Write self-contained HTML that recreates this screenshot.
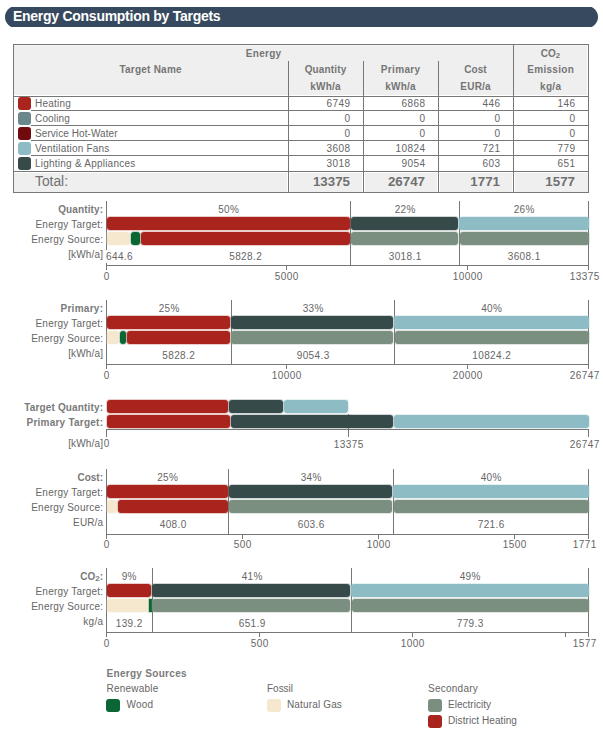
<!DOCTYPE html>
<html><head><meta charset="utf-8"><style>
html,body{margin:0;padding:0;background:#fff;}
body{width:603px;height:740px;position:relative;overflow:hidden;font-family:"Liberation Sans",sans-serif;}
body>div{position:absolute;}
</style></head><body>
<div style="left:4.5px;top:7px;width:593.5px;height:20px;overflow:hidden;"><div style="position:absolute;left:0;top:-1px;width:593.5px;height:22px;background:#36495e;border-radius:11px;"></div></div>
<div style="left:13px;top:9px;font-size:14px;line-height:14px;font-weight:bold;color:#fff;white-space:nowrap;letter-spacing:-0.27px;">Energy Consumption by Targets</div>
<div style="left:13px;top:44px;width:574px;height:147px;border:1px solid #777;"></div>
<div style="left:14px;top:46px;width:573px;height:49px;background:#efefef;"></div>
<div style="left:14px;top:45px;width:573px;height:1px;background:#f7f7f7;"></div>
<div style="left:14px;top:173px;width:574px;height:19px;background:#efefef;"></div>
<div style="left:288px;top:61px;width:1px;height:35px;background:#777;"></div>
<div style="left:363px;top:61px;width:1px;height:35px;background:#777;"></div>
<div style="left:438px;top:61px;width:1px;height:35px;background:#777;"></div>
<div style="left:513px;top:45px;width:1px;height:51px;background:#777;"></div>
<div style="left:14px;top:96px;width:574px;height:1px;background:#777;"></div>
<div style="left:31px;top:110px;width:557px;height:1px;background:#777;"></div>
<div style="left:31px;top:125px;width:557px;height:1px;background:#777;"></div>
<div style="left:31px;top:140px;width:557px;height:1px;background:#777;"></div>
<div style="left:31px;top:155px;width:557px;height:1px;background:#777;"></div>
<div style="left:14px;top:171px;width:574px;height:1px;background:#777;"></div>
<div style="left:287px;top:172px;width:3px;height:20px;background:#fff;"></div>
<div style="left:362px;top:172px;width:3px;height:20px;background:#fff;"></div>
<div style="left:437px;top:172px;width:3px;height:20px;background:#fff;"></div>
<div style="left:512px;top:172px;width:3px;height:20px;background:#fff;"></div>
<div style="left:14px;top:172px;width:574px;height:1px;background:#fff;"></div>
<div style="left:288px;top:97px;width:1px;height:95px;background:#777;"></div>
<div style="left:363px;top:97px;width:1px;height:95px;background:#777;"></div>
<div style="left:438px;top:97px;width:1px;height:95px;background:#777;"></div>
<div style="left:513px;top:97px;width:1px;height:95px;background:#777;"></div>
<div style="left:63.64155273437501px;width:400px;text-align:center;top:49px;font-size:10px;line-height:10px;font-weight:bold;color:#757575;white-space:nowrap;letter-spacing:0.283px;">Energy</div>
<div style="left:-49.38528053977274px;width:400px;text-align:center;top:65px;font-size:10px;line-height:10px;font-weight:bold;color:#757575;white-space:nowrap;letter-spacing:0.229px;">Target Name</div>
<div style="left:125.57770996093751px;width:400px;text-align:center;top:65px;font-size:10px;line-height:10px;font-weight:bold;color:#757575;white-space:nowrap;letter-spacing:0.155px;">Quantity</div>
<div style="left:125.60517578125001px;width:400px;text-align:center;top:82px;font-size:10px;line-height:10px;font-weight:bold;color:#757575;white-space:nowrap;letter-spacing:0.210px;">kWh/a</div>
<div style="left:200.67527901785712px;width:400px;text-align:center;top:65px;font-size:10px;line-height:10px;font-weight:bold;color:#757575;white-space:nowrap;letter-spacing:0.351px;">Primary</div>
<div style="left:200.60517578125px;width:400px;text-align:center;top:82px;font-size:10px;line-height:10px;font-weight:bold;color:#757575;white-space:nowrap;letter-spacing:0.210px;">kWh/a</div>
<div style="left:275.5222900390625px;width:400px;text-align:center;top:65px;font-size:10px;line-height:10px;font-weight:bold;color:#757575;white-space:nowrap;letter-spacing:0.045px;">Cost</div>
<div style="left:275.6046875px;width:400px;text-align:center;top:82px;font-size:10px;line-height:10px;font-weight:bold;color:#757575;white-space:nowrap;letter-spacing:0.209px;">EUR/a</div>
<div style="left:350.5px;width:400px;text-align:center;top:49px;font-size:10px;line-height:10px;font-weight:bold;color:#757575;white-space:nowrap;">CO<sub style="font-size:8px;vertical-align:-1px;line-height:0">2</sub></div>
<div style="left:350.6463745117187px;width:400px;text-align:center;top:65px;font-size:10px;line-height:10px;font-weight:bold;color:#757575;white-space:nowrap;letter-spacing:0.293px;">Emission</div>
<div style="left:350.67377929687495px;width:400px;text-align:center;top:82px;font-size:10px;line-height:10px;font-weight:bold;color:#757575;white-space:nowrap;letter-spacing:0.348px;">kg/a</div>
<div style="left:17.8px;top:96.5px;width:13.6px;height:13.4px;background:#a8241c;border-radius:3px;"></div>
<div style="left:35px;top:99px;font-size:10px;line-height:10px;color:#666;white-space:nowrap;letter-spacing:0.219px;">Heating</div>
<div style="left:-49.5615234375px;width:400px;text-align:right;top:99px;font-size:10px;line-height:10px;color:#666;white-space:nowrap;letter-spacing:0.438px;">6749</div>
<div style="left:25.4384765625px;width:400px;text-align:right;top:99px;font-size:10px;line-height:10px;color:#666;white-space:nowrap;letter-spacing:0.438px;">6868</div>
<div style="left:100.4384765625px;width:400px;text-align:right;top:99px;font-size:10px;line-height:10px;color:#666;white-space:nowrap;letter-spacing:0.438px;">446</div>
<div style="left:175.4384765625px;width:400px;text-align:right;top:99px;font-size:10px;line-height:10px;color:#666;white-space:nowrap;letter-spacing:0.438px;">146</div>
<div style="left:17.8px;top:111.5px;width:13.6px;height:13.4px;background:#6a878b;border-radius:3px;"></div>
<div style="left:35px;top:114px;font-size:10px;line-height:10px;color:#666;white-space:nowrap;letter-spacing:0.156px;">Cooling</div>
<div style="left:-49.5615234375px;width:400px;text-align:right;top:114px;font-size:10px;line-height:10px;color:#666;white-space:nowrap;letter-spacing:0.438px;">0</div>
<div style="left:25.4384765625px;width:400px;text-align:right;top:114px;font-size:10px;line-height:10px;color:#666;white-space:nowrap;letter-spacing:0.438px;">0</div>
<div style="left:100.4384765625px;width:400px;text-align:right;top:114px;font-size:10px;line-height:10px;color:#666;white-space:nowrap;letter-spacing:0.438px;">0</div>
<div style="left:175.4384765625px;width:400px;text-align:right;top:114px;font-size:10px;line-height:10px;color:#666;white-space:nowrap;letter-spacing:0.438px;">0</div>
<div style="left:17.8px;top:126.5px;width:13.6px;height:13.4px;background:#700a0e;border-radius:3px;"></div>
<div style="left:35px;top:129px;font-size:10px;line-height:10px;color:#666;white-space:nowrap;letter-spacing:0.077px;">Service Hot-Water</div>
<div style="left:-49.5615234375px;width:400px;text-align:right;top:129px;font-size:10px;line-height:10px;color:#666;white-space:nowrap;letter-spacing:0.438px;">0</div>
<div style="left:25.4384765625px;width:400px;text-align:right;top:129px;font-size:10px;line-height:10px;color:#666;white-space:nowrap;letter-spacing:0.438px;">0</div>
<div style="left:100.4384765625px;width:400px;text-align:right;top:129px;font-size:10px;line-height:10px;color:#666;white-space:nowrap;letter-spacing:0.438px;">0</div>
<div style="left:175.4384765625px;width:400px;text-align:right;top:129px;font-size:10px;line-height:10px;color:#666;white-space:nowrap;letter-spacing:0.438px;">0</div>
<div style="left:17.8px;top:141.5px;width:13.6px;height:13.4px;background:#8ebcc4;border-radius:3px;"></div>
<div style="left:35px;top:144px;font-size:10px;line-height:10px;color:#666;white-space:nowrap;letter-spacing:0.206px;">Ventilation Fans</div>
<div style="left:-49.5615234375px;width:400px;text-align:right;top:144px;font-size:10px;line-height:10px;color:#666;white-space:nowrap;letter-spacing:0.438px;">3608</div>
<div style="left:25.4384765625px;width:400px;text-align:right;top:144px;font-size:10px;line-height:10px;color:#666;white-space:nowrap;letter-spacing:0.438px;">10824</div>
<div style="left:100.4384765625px;width:400px;text-align:right;top:144px;font-size:10px;line-height:10px;color:#666;white-space:nowrap;letter-spacing:0.438px;">721</div>
<div style="left:175.4384765625px;width:400px;text-align:right;top:144px;font-size:10px;line-height:10px;color:#666;white-space:nowrap;letter-spacing:0.438px;">779</div>
<div style="left:17.8px;top:156.5px;width:13.6px;height:13.4px;background:#364a4a;border-radius:3px;"></div>
<div style="left:35px;top:159px;font-size:10px;line-height:10px;color:#666;white-space:nowrap;letter-spacing:0.230px;">Lighting &amp; Appliances</div>
<div style="left:-49.5615234375px;width:400px;text-align:right;top:159px;font-size:10px;line-height:10px;color:#666;white-space:nowrap;letter-spacing:0.438px;">3018</div>
<div style="left:25.4384765625px;width:400px;text-align:right;top:159px;font-size:10px;line-height:10px;color:#666;white-space:nowrap;letter-spacing:0.438px;">9054</div>
<div style="left:100.4384765625px;width:400px;text-align:right;top:159px;font-size:10px;line-height:10px;color:#666;white-space:nowrap;letter-spacing:0.438px;">603</div>
<div style="left:175.4384765625px;width:400px;text-align:right;top:159px;font-size:10px;line-height:10px;color:#666;white-space:nowrap;letter-spacing:0.438px;">651</div>
<div style="left:35px;top:174.5px;font-size:13.8px;line-height:13.8px;color:#707070;white-space:nowrap;">Total:</div>
<div style="left:-50px;width:400px;text-align:right;top:175px;font-size:13.33px;line-height:13.33px;font-weight:bold;color:#707070;white-space:nowrap;">13375</div>
<div style="left:25px;width:400px;text-align:right;top:175px;font-size:13.33px;line-height:13.33px;font-weight:bold;color:#707070;white-space:nowrap;">26747</div>
<div style="left:100px;width:400px;text-align:right;top:175px;font-size:13.33px;line-height:13.33px;font-weight:bold;color:#707070;white-space:nowrap;">1771</div>
<div style="left:175px;width:400px;text-align:right;top:175px;font-size:13.33px;line-height:13.33px;font-weight:bold;color:#707070;white-space:nowrap;">1577</div>
<div style="left:106px;top:201px;width:1px;height:64px;background:#777;"></div>
<div style="left:350px;top:201px;width:1px;height:64px;background:#777;"></div>
<div style="left:459px;top:201px;width:1px;height:64px;background:#777;"></div>
<div style="left:588px;top:201px;width:1px;height:64px;background:#777;"></div>
<div style="left:107px;top:217px;width:243px;height:13px;background:#a8241c;border-radius:3px;box-shadow:0 0 0 1px #a8241c3a;"></div>
<div style="left:351px;top:217px;width:107px;height:13px;background:#364a4a;border-radius:3px;box-shadow:0 0 0 1px #364a4a3a;"></div>
<div style="left:459px;top:217px;width:130px;height:13px;background:#8ebcc4;border-radius:3px;box-shadow:0 0 0 1px #8ebcc43a;"></div>
<div style="left:107px;top:232px;width:23px;height:13px;background:#f6e7cf;border-radius:3px;box-shadow:0 0 0 1px #f6e7cf3a;"></div>
<div style="left:131px;top:232px;width:9px;height:13px;background:#0a6634;border-radius:3px;box-shadow:0 0 0 1px #0a66343a;"></div>
<div style="left:141px;top:232px;width:209px;height:13px;background:#a8241c;border-radius:3px;box-shadow:0 0 0 1px #a8241c3a;"></div>
<div style="left:351px;top:232px;width:107px;height:13px;background:#7a8f80;border-radius:3px;box-shadow:0 0 0 1px #7a8f803a;"></div>
<div style="left:460px;top:232px;width:129px;height:13px;background:#7a8f80;border-radius:3px;box-shadow:0 0 0 1px #7a8f803a;"></div>
<div style="left:-296.88741319444443px;width:400px;text-align:right;top:205px;font-size:10px;line-height:10px;font-weight:bold;color:#7a7a7a;white-space:nowrap;letter-spacing:0.113px;">Quantity:</div>
<div style="left:-296.7958984375px;width:400px;text-align:right;top:220px;font-size:10px;line-height:10px;color:#666;white-space:nowrap;letter-spacing:0.204px;">Energy Target:</div>
<div style="left:-296.78041294642856px;width:400px;text-align:right;top:235px;font-size:10px;line-height:10px;color:#666;white-space:nowrap;letter-spacing:0.220px;">Energy Source:</div>
<div style="left:-296.8423549107143px;width:400px;text-align:right;top:250px;font-size:10px;line-height:10px;color:#666;white-space:nowrap;letter-spacing:0.158px;">[kWh/a]</div>
<div style="left:28.664225260416657px;width:400px;text-align:center;top:205px;font-size:10px;line-height:10px;color:#666;white-space:nowrap;letter-spacing:0.328px;">50%</div>
<div style="left:205.16422526041669px;width:400px;text-align:center;top:205px;font-size:10px;line-height:10px;color:#666;white-space:nowrap;letter-spacing:0.328px;">22%</div>
<div style="left:324.16422526041663px;width:400px;text-align:center;top:205px;font-size:10px;line-height:10px;color:#666;white-space:nowrap;letter-spacing:0.328px;">26%</div>
<div style="left:45.701171875px;width:400px;text-align:center;top:252px;font-size:10px;line-height:10px;color:#666;white-space:nowrap;letter-spacing:0.402px;">5828.2</div>
<div style="left:205.201171875px;width:400px;text-align:center;top:252px;font-size:10px;line-height:10px;color:#666;white-space:nowrap;letter-spacing:0.402px;">3018.1</div>
<div style="left:324.201171875px;width:400px;text-align:center;top:252px;font-size:10px;line-height:10px;color:#666;white-space:nowrap;letter-spacing:0.402px;">3608.1</div>
<div style="left:106px;top:265px;width:483px;height:1px;background:#777;"></div>
<div style="left:106px;top:265px;width:1px;height:5px;background:#777;"></div>
<div style="left:-93.28076171875px;width:400px;text-align:center;top:272px;font-size:10px;line-height:10px;color:#666;white-space:nowrap;letter-spacing:0.438px;">0</div>
<div style="left:286px;top:265px;width:1px;height:5px;background:#777;"></div>
<div style="left:86.71923828125px;width:400px;text-align:center;top:272px;font-size:10px;line-height:10px;color:#666;white-space:nowrap;letter-spacing:0.438px;">5000</div>
<div style="left:467px;top:265px;width:1px;height:5px;background:#777;"></div>
<div style="left:267.71923828125px;width:400px;text-align:center;top:272px;font-size:10px;line-height:10px;color:#666;white-space:nowrap;letter-spacing:0.438px;">10000</div>
<div style="left:588px;top:265px;width:1px;height:5px;background:#777;"></div>
<div style="left:384.71923828125px;width:400px;text-align:center;top:272px;font-size:10px;line-height:10px;color:#666;white-space:nowrap;letter-spacing:0.438px;">13375</div>
<div style="left:104px;top:250px;width:28px;height:13px;background:#fff;"></div>
<div style="left:106px;top:252px;font-size:10px;line-height:10px;color:#666;white-space:nowrap;letter-spacing:0.395px;">644.6</div>
<div style="left:106px;top:300px;width:1px;height:64px;background:#777;"></div>
<div style="left:231px;top:300px;width:1px;height:64px;background:#777;"></div>
<div style="left:394px;top:300px;width:1px;height:64px;background:#777;"></div>
<div style="left:588px;top:300px;width:1px;height:64px;background:#777;"></div>
<div style="left:107px;top:316px;width:123px;height:13px;background:#a8241c;border-radius:3px;box-shadow:0 0 0 1px #a8241c3a;"></div>
<div style="left:231px;top:316px;width:162px;height:13px;background:#364a4a;border-radius:3px;box-shadow:0 0 0 1px #364a4a3a;"></div>
<div style="left:394px;top:316px;width:195px;height:13px;background:#8ebcc4;border-radius:3px;box-shadow:0 0 0 1px #8ebcc43a;"></div>
<div style="left:107px;top:331px;width:12px;height:13px;background:#f6e7cf;border-radius:3px;box-shadow:0 0 0 1px #f6e7cf3a;"></div>
<div style="left:120px;top:331px;width:6px;height:13px;background:#0a6634;border-radius:3px;box-shadow:0 0 0 1px #0a66343a;"></div>
<div style="left:127px;top:331px;width:103px;height:13px;background:#a8241c;border-radius:3px;box-shadow:0 0 0 1px #a8241c3a;"></div>
<div style="left:231px;top:331px;width:162px;height:13px;background:#7a8f80;border-radius:3px;box-shadow:0 0 0 1px #7a8f803a;"></div>
<div style="left:395px;top:331px;width:194px;height:13px;background:#7a8f80;border-radius:3px;box-shadow:0 0 0 1px #7a8f803a;"></div>
<div style="left:-296.722021484375px;width:400px;text-align:right;top:304px;font-size:10px;line-height:10px;font-weight:bold;color:#7a7a7a;white-space:nowrap;letter-spacing:0.278px;">Primary:</div>
<div style="left:-296.7958984375px;width:400px;text-align:right;top:319px;font-size:10px;line-height:10px;color:#666;white-space:nowrap;letter-spacing:0.204px;">Energy Target:</div>
<div style="left:-296.78041294642856px;width:400px;text-align:right;top:334px;font-size:10px;line-height:10px;color:#666;white-space:nowrap;letter-spacing:0.220px;">Energy Source:</div>
<div style="left:-296.8423549107143px;width:400px;text-align:right;top:349px;font-size:10px;line-height:10px;color:#666;white-space:nowrap;letter-spacing:0.158px;">[kWh/a]</div>
<div style="left:-30.835774739583343px;width:400px;text-align:center;top:304px;font-size:10px;line-height:10px;color:#666;white-space:nowrap;letter-spacing:0.328px;">25%</div>
<div style="left:113.16422526041669px;width:400px;text-align:center;top:304px;font-size:10px;line-height:10px;color:#666;white-space:nowrap;letter-spacing:0.328px;">33%</div>
<div style="left:291.6642252604167px;width:400px;text-align:center;top:304px;font-size:10px;line-height:10px;color:#666;white-space:nowrap;letter-spacing:0.328px;">40%</div>
<div style="left:-21.298828125px;width:400px;text-align:center;top:351px;font-size:10px;line-height:10px;color:#666;white-space:nowrap;letter-spacing:0.402px;">5828.2</div>
<div style="left:113.201171875px;width:400px;text-align:center;top:351px;font-size:10px;line-height:10px;color:#666;white-space:nowrap;letter-spacing:0.402px;">9054.3</div>
<div style="left:291.70375279017856px;width:400px;text-align:center;top:351px;font-size:10px;line-height:10px;color:#666;white-space:nowrap;letter-spacing:0.408px;">10824.2</div>
<div style="left:106px;top:364px;width:483px;height:1px;background:#777;"></div>
<div style="left:106px;top:364px;width:1px;height:5px;background:#777;"></div>
<div style="left:-93.28076171875px;width:400px;text-align:center;top:371px;font-size:10px;line-height:10px;color:#666;white-space:nowrap;letter-spacing:0.438px;">0</div>
<div style="left:286px;top:364px;width:1px;height:5px;background:#777;"></div>
<div style="left:86.71923828125px;width:400px;text-align:center;top:371px;font-size:10px;line-height:10px;color:#666;white-space:nowrap;letter-spacing:0.438px;">10000</div>
<div style="left:467px;top:364px;width:1px;height:5px;background:#777;"></div>
<div style="left:267.71923828125px;width:400px;text-align:center;top:371px;font-size:10px;line-height:10px;color:#666;white-space:nowrap;letter-spacing:0.438px;">20000</div>
<div style="left:588px;top:364px;width:1px;height:5px;background:#777;"></div>
<div style="left:384.71923828125px;width:400px;text-align:center;top:371px;font-size:10px;line-height:10px;color:#666;white-space:nowrap;letter-spacing:0.438px;">26747</div>
<div style="left:348px;top:414px;width:1px;height:23px;background:#777;"></div>
<div style="left:107px;top:400px;width:121px;height:13px;background:#a8241c;border-radius:3px;box-shadow:0 0 0 1px #a8241c3a;"></div>
<div style="left:229px;top:400px;width:54px;height:13px;background:#364a4a;border-radius:3px;box-shadow:0 0 0 1px #364a4a3a;"></div>
<div style="left:284px;top:400px;width:64px;height:13px;background:#8ebcc4;border-radius:3px;box-shadow:0 0 0 1px #8ebcc43a;"></div>
<div style="left:107px;top:415px;width:123px;height:13px;background:#a8241c;border-radius:3px;box-shadow:0 0 0 1px #a8241c3a;"></div>
<div style="left:231px;top:415px;width:162px;height:13px;background:#364a4a;border-radius:3px;box-shadow:0 0 0 1px #364a4a3a;"></div>
<div style="left:394px;top:415px;width:195px;height:13px;background:#8ebcc4;border-radius:3px;box-shadow:0 0 0 1px #8ebcc43a;"></div>
<div style="left:-296.85166015625px;width:400px;text-align:right;top:403px;font-size:10px;line-height:10px;font-weight:bold;color:#7a7a7a;white-space:nowrap;letter-spacing:0.148px;">Target Quantity:</div>
<div style="left:-296.7610677083333px;width:400px;text-align:right;top:418px;font-size:10px;line-height:10px;font-weight:bold;color:#7a7a7a;white-space:nowrap;letter-spacing:0.239px;">Primary Target:</div>
<div style="left:-296.8423549107143px;width:400px;text-align:right;top:439px;font-size:10px;line-height:10px;color:#666;white-space:nowrap;letter-spacing:0.158px;">[kWh/a]</div>
<div style="left:-93.28076171875px;width:400px;text-align:center;top:439px;font-size:10px;line-height:10px;color:#666;white-space:nowrap;letter-spacing:0.438px;">0</div>
<div style="left:106px;top:429px;width:483px;height:1px;background:#777;"></div>
<div style="left:106px;top:429px;width:1px;height:8px;background:#777;"></div>
<div style="left:588px;top:429px;width:1px;height:8px;background:#777;"></div>
<div style="left:148.71923828125px;width:400px;text-align:center;top:440px;font-size:10px;line-height:10px;color:#666;white-space:nowrap;letter-spacing:0.438px;">13375</div>
<div style="left:384.71923828125px;width:400px;text-align:center;top:440px;font-size:10px;line-height:10px;color:#666;white-space:nowrap;letter-spacing:0.438px;">26747</div>
<div style="left:106px;top:469px;width:1px;height:65px;background:#777;"></div>
<div style="left:228px;top:469px;width:1px;height:65px;background:#777;"></div>
<div style="left:393px;top:469px;width:1px;height:65px;background:#777;"></div>
<div style="left:588px;top:469px;width:1px;height:65px;background:#777;"></div>
<div style="left:107px;top:485px;width:121px;height:13px;background:#a8241c;border-radius:3px;box-shadow:0 0 0 1px #a8241c3a;"></div>
<div style="left:229px;top:485px;width:163px;height:13px;background:#364a4a;border-radius:3px;box-shadow:0 0 0 1px #364a4a3a;"></div>
<div style="left:393px;top:485px;width:196px;height:13px;background:#8ebcc4;border-radius:3px;box-shadow:0 0 0 1px #8ebcc43a;"></div>
<div style="left:107px;top:500px;width:10px;height:13px;background:#f6e7cf;border-radius:3px;box-shadow:0 0 0 1px #f6e7cf3a;"></div>
<div style="left:118px;top:500px;width:110px;height:13px;background:#a8241c;border-radius:3px;box-shadow:0 0 0 1px #a8241c3a;"></div>
<div style="left:229px;top:500px;width:163px;height:13px;background:#7a8f80;border-radius:3px;box-shadow:0 0 0 1px #7a8f803a;"></div>
<div style="left:394px;top:500px;width:195px;height:13px;background:#7a8f80;border-radius:3px;box-shadow:0 0 0 1px #7a8f803a;"></div>
<div style="left:-297.0103515625px;width:400px;text-align:right;top:473px;font-size:10px;line-height:10px;font-weight:bold;color:#7a7a7a;white-space:nowrap;letter-spacing:-0.010px;">Cost:</div>
<div style="left:-296.7958984375px;width:400px;text-align:right;top:488px;font-size:10px;line-height:10px;color:#666;white-space:nowrap;letter-spacing:0.204px;">Energy Target:</div>
<div style="left:-296.78041294642856px;width:400px;text-align:right;top:503px;font-size:10px;line-height:10px;color:#666;white-space:nowrap;letter-spacing:0.220px;">Energy Source:</div>
<div style="left:-296.890625px;width:400px;text-align:right;top:518px;font-size:10px;line-height:10px;color:#666;white-space:nowrap;letter-spacing:0.109px;">EUR/a</div>
<div style="left:-32.33577473958334px;width:400px;text-align:center;top:473px;font-size:10px;line-height:10px;color:#666;white-space:nowrap;letter-spacing:0.328px;">25%</div>
<div style="left:111.16422526041669px;width:400px;text-align:center;top:473px;font-size:10px;line-height:10px;color:#666;white-space:nowrap;letter-spacing:0.328px;">34%</div>
<div style="left:291.1642252604167px;width:400px;text-align:center;top:473px;font-size:10px;line-height:10px;color:#666;white-space:nowrap;letter-spacing:0.328px;">40%</div>
<div style="left:-26.80244140625001px;width:400px;text-align:center;top:520px;font-size:10px;line-height:10px;color:#666;white-space:nowrap;letter-spacing:0.395px;">408.0</div>
<div style="left:111.19755859374999px;width:400px;text-align:center;top:520px;font-size:10px;line-height:10px;color:#666;white-space:nowrap;letter-spacing:0.395px;">603.6</div>
<div style="left:291.19755859375px;width:400px;text-align:center;top:520px;font-size:10px;line-height:10px;color:#666;white-space:nowrap;letter-spacing:0.395px;">721.6</div>
<div style="left:106px;top:534px;width:483px;height:1px;background:#777;"></div>
<div style="left:106px;top:534px;width:1px;height:5px;background:#777;"></div>
<div style="left:-93.28076171875px;width:400px;text-align:center;top:540px;font-size:10px;line-height:10px;color:#666;white-space:nowrap;letter-spacing:0.438px;">0</div>
<div style="left:242px;top:534px;width:1px;height:5px;background:#777;"></div>
<div style="left:42.71923828125px;width:400px;text-align:center;top:540px;font-size:10px;line-height:10px;color:#666;white-space:nowrap;letter-spacing:0.438px;">500</div>
<div style="left:378px;top:534px;width:1px;height:5px;background:#777;"></div>
<div style="left:178.71923828125px;width:400px;text-align:center;top:540px;font-size:10px;line-height:10px;color:#666;white-space:nowrap;letter-spacing:0.438px;">1000</div>
<div style="left:514px;top:534px;width:1px;height:5px;background:#777;"></div>
<div style="left:314.71923828125px;width:400px;text-align:center;top:540px;font-size:10px;line-height:10px;color:#666;white-space:nowrap;letter-spacing:0.438px;">1500</div>
<div style="left:588px;top:534px;width:1px;height:5px;background:#777;"></div>
<div style="left:384.71923828125px;width:400px;text-align:center;top:540px;font-size:10px;line-height:10px;color:#666;white-space:nowrap;letter-spacing:0.438px;">1771</div>
<div style="left:106px;top:568px;width:1px;height:64px;background:#777;"></div>
<div style="left:152px;top:568px;width:1px;height:64px;background:#777;"></div>
<div style="left:351px;top:568px;width:1px;height:64px;background:#777;"></div>
<div style="left:588px;top:568px;width:1px;height:64px;background:#777;"></div>
<div style="left:107px;top:584px;width:44px;height:13px;background:#a8241c;border-radius:3px;box-shadow:0 0 0 1px #a8241c3a;"></div>
<div style="left:152px;top:584px;width:198px;height:13px;background:#364a4a;border-radius:3px;box-shadow:0 0 0 1px #364a4a3a;"></div>
<div style="left:351px;top:584px;width:238px;height:13px;background:#8ebcc4;border-radius:3px;box-shadow:0 0 0 1px #8ebcc43a;"></div>
<div style="left:107px;top:599px;width:42px;height:13px;background:#f6e7cf;border-radius:3px;box-shadow:0 0 0 1px #f6e7cf3a;"></div>
<div style="left:149px;top:599px;width:3px;height:13px;background:#0a6634;border-radius:0px;box-shadow:0 0 0 1px #0a66343a;"></div>
<div style="left:152px;top:599px;width:198px;height:13px;background:#7a8f80;border-radius:3px;box-shadow:0 0 0 1px #7a8f803a;"></div>
<div style="left:352px;top:599px;width:237px;height:13px;background:#7a8f80;border-radius:3px;box-shadow:0 0 0 1px #7a8f803a;"></div>
<div style="left:-297px;width:400px;text-align:right;top:572px;font-size:10px;line-height:10px;font-weight:bold;color:#7a7a7a;white-space:nowrap;">CO<sub style="font-size:8px;vertical-align:-1px;line-height:0">2</sub>:</div>
<div style="left:-296.7958984375px;width:400px;text-align:right;top:587px;font-size:10px;line-height:10px;color:#666;white-space:nowrap;letter-spacing:0.204px;">Energy Target:</div>
<div style="left:-296.78041294642856px;width:400px;text-align:right;top:602px;font-size:10px;line-height:10px;color:#666;white-space:nowrap;letter-spacing:0.220px;">Energy Source:</div>
<div style="left:-296.725341796875px;width:400px;text-align:right;top:617px;font-size:10px;line-height:10px;color:#666;white-space:nowrap;letter-spacing:0.275px;">kg/a</div>
<div style="left:-70.86328125px;width:400px;text-align:center;top:572px;font-size:10px;line-height:10px;color:#666;white-space:nowrap;letter-spacing:0.273px;">9%</div>
<div style="left:52.16422526041666px;width:400px;text-align:center;top:572px;font-size:10px;line-height:10px;color:#666;white-space:nowrap;letter-spacing:0.328px;">41%</div>
<div style="left:270.1642252604167px;width:400px;text-align:center;top:572px;font-size:10px;line-height:10px;color:#666;white-space:nowrap;letter-spacing:0.328px;">49%</div>
<div style="left:-70.80244140625001px;width:400px;text-align:center;top:619px;font-size:10px;line-height:10px;color:#666;white-space:nowrap;letter-spacing:0.395px;">139.2</div>
<div style="left:52.19755859374999px;width:400px;text-align:center;top:619px;font-size:10px;line-height:10px;color:#666;white-space:nowrap;letter-spacing:0.395px;">651.9</div>
<div style="left:270.19755859375px;width:400px;text-align:center;top:619px;font-size:10px;line-height:10px;color:#666;white-space:nowrap;letter-spacing:0.395px;">779.3</div>
<div style="left:106px;top:632px;width:483px;height:1px;background:#777;"></div>
<div style="left:106px;top:632px;width:1px;height:5px;background:#777;"></div>
<div style="left:-93.28076171875px;width:400px;text-align:center;top:639px;font-size:10px;line-height:10px;color:#666;white-space:nowrap;letter-spacing:0.438px;">0</div>
<div style="left:259px;top:632px;width:1px;height:5px;background:#777;"></div>
<div style="left:59.71923828125px;width:400px;text-align:center;top:639px;font-size:10px;line-height:10px;color:#666;white-space:nowrap;letter-spacing:0.438px;">500</div>
<div style="left:412px;top:632px;width:1px;height:5px;background:#777;"></div>
<div style="left:212.71923828125px;width:400px;text-align:center;top:639px;font-size:10px;line-height:10px;color:#666;white-space:nowrap;letter-spacing:0.438px;">1000</div>
<div style="left:565px;top:632px;width:1px;height:5px;background:#777;"></div>
<div style="left:588px;top:632px;width:1px;height:5px;background:#777;"></div>
<div style="left:384.71923828125px;width:400px;text-align:center;top:639px;font-size:10px;line-height:10px;color:#666;white-space:nowrap;letter-spacing:0.438px;">1577</div>
<div style="left:106.5px;top:669px;font-size:10px;line-height:10px;font-weight:bold;color:#7a7a7a;white-space:nowrap;letter-spacing:0.304px;">Energy Sources</div>
<div style="left:106.5px;top:684px;font-size:10px;line-height:10px;color:#666;white-space:nowrap;letter-spacing:0.218px;">Renewable</div>
<div style="left:106px;top:699.0px;width:13.5px;height:13.3px;background:#0a6634;border-radius:3px;"></div>
<div style="left:126.5px;top:700px;font-size:10px;line-height:10px;color:#666;white-space:nowrap;letter-spacing:0.219px;">Wood</div>
<div style="left:267px;top:684px;font-size:10px;line-height:10px;color:#666;white-space:nowrap;letter-spacing:-0.019px;">Fossil</div>
<div style="left:267px;top:699.0px;width:13.5px;height:13.3px;background:#f6e7cf;border-radius:3px;"></div>
<div style="left:287px;top:700px;font-size:10px;line-height:10px;color:#666;white-space:nowrap;letter-spacing:0.150px;">Natural Gas</div>
<div style="left:428px;top:684px;font-size:10px;line-height:10px;color:#666;white-space:nowrap;letter-spacing:0.244px;">Secondary</div>
<div style="left:428px;top:699.0px;width:13.5px;height:13.3px;background:#7a8f80;border-radius:3px;"></div>
<div style="left:448px;top:700px;font-size:10px;line-height:10px;color:#666;white-space:nowrap;letter-spacing:0.020px;">Electricity</div>
<div style="left:428px;top:714.5px;width:13.5px;height:13.3px;background:#a8241c;border-radius:3px;"></div>
<div style="left:448px;top:716px;font-size:10px;line-height:10px;color:#666;white-space:nowrap;letter-spacing:0.075px;">District Heating</div>
</body></html>
